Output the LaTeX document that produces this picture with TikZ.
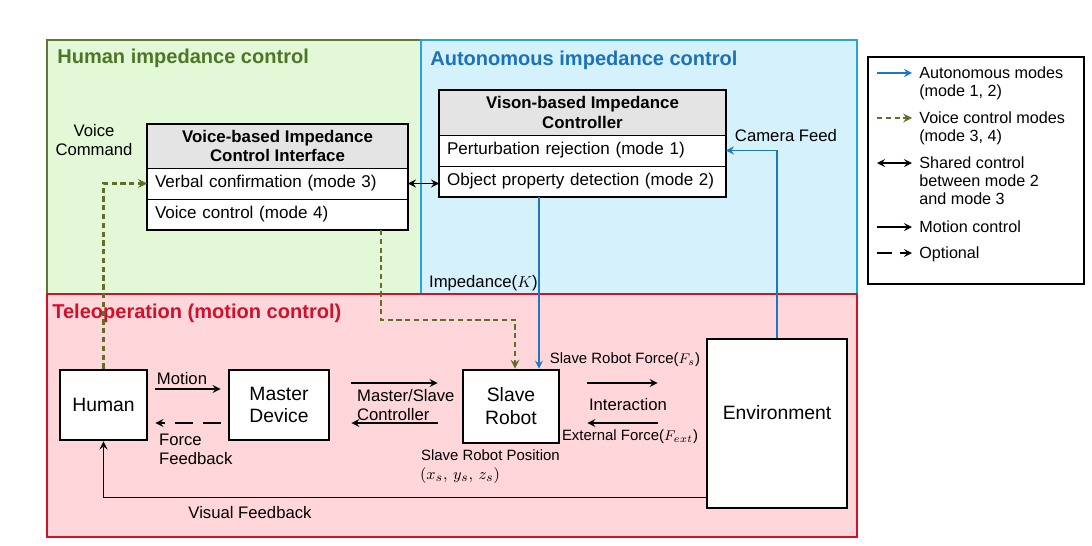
\documentclass[tikz,border=0pt]{standalone}
\usepackage{fontspec}
\setmainfont{Liberation Sans}
\usepackage{tikz}
\usetikzlibrary{arrows,shapes,positioning}
\usepackage{xcolor}
\definecolor{hgreen}{RGB}{94,122,46}
\definecolor{hgreentxt}{RGB}{79,118,38}
\definecolor{hgreenfill}{RGB}{226,248,214}
\definecolor{ablue}{RGB}{40,164,220}
\definecolor{abluetxt}{RGB}{27,114,188}
\definecolor{abluefill}{RGB}{212,241,252}
\definecolor{tred}{RGB}{210,16,42}
\definecolor{tredfill}{RGB}{255,214,218}
\definecolor{autoline}{RGB}{31,119,192}
\definecolor{voiceline}{RGB}{96,110,40}
\definecolor{headgray}{RGB}{228,228,228}
\tikzstyle{region} = [line width=1.3pt]
\tikzstyle{regtitle} = [anchor=west, inner sep=0pt, font=\bfseries\fontsize{11.4}{13}\selectfont]
\tikzstyle{block} = [rectangle, draw=black, line width=1.6pt, fill=white, align=center, font=\fontsize{11}{13}\selectfont]
\tikzstyle{head} = [rectangle, draw=black, thin, fill=headgray, align=center, outer sep=0pt, font=\bfseries\fontsize{9.6}{11}\selectfont]
\tikzstyle{row} = [rectangle, draw=black, thin, fill=white, align=left, outer sep=0pt, minimum height=0.62cm, inner xsep=0.16cm, font=\fontsize{9.7}{11}\selectfont]
\tikzstyle{lbl} = [font=\fontsize{9.5}{11}\selectfont, align=center, inner sep=1pt]
\tikzstyle{smalllbl} = [font=\fontsize{8.5}{10}\selectfont, inner sep=1pt]
\tikzstyle{legtext} = [anchor=north west, align=left, inner sep=0pt, font=\fontsize{9.2}{10.3}\selectfont]
\tikzstyle{arrow} = [line width=1pt,->,>=stealth]
\tikzstyle{autoarrow} = [arrow, color=autoline]
\tikzstyle{voicearrow} = [arrow, line width=1.2pt, color=voiceline, dash pattern=on 3pt off 2pt]
\tikzstyle{optarrow} = [arrow, dash pattern=on 0.36cm off 0.2cm]

\begin{document}
\begin{tikzpicture}[x=0.02cm, y=-0.02cm]
\fill[white] (0,0) rectangle (1092,545);
\useasboundingbox (0,0) rectangle (1092,545);

% Regions
\draw[region, draw=hgreen, fill=hgreenfill] (47,40) rectangle (421,294);
\draw[region, draw=ablue, fill=abluefill] (421,40) rectangle (857,294);
\draw[region, draw=tred, fill=tredfill] (47,294) rectangle (857,537);
\node (htitle) [regtitle, text=hgreentxt] at (57,58) {Human impedance control};
\node (atitle) [regtitle, text=abluetxt] at (430,60) {Autonomous impedance control};
\node (ttitle) [regtitle, text=tred] at (52,313) {Teleoperation (motion control)};

% Voice-based interface
\node (vhead) [head, minimum width=5.22cm, minimum height=0.88cm] at (277.5,146) {Voice-based Impedance\\Control Interface};
\node (vrow1) [row, text width=4.9cm, below=0pt of vhead] {Verbal confirmation (mode 3)};
\node (vrow2) [row, text width=4.9cm, below=0pt of vrow1] {Voice control (mode 4)};
\draw[line width=1.6pt] (vhead.north west) rectangle (vrow2.south east);

% Vision-based controller
\node (ihead) [head, minimum width=5.74cm, minimum height=0.9cm] at (582.5,112.5) {Vison-based Impedance\\Controller};
\node (irow1) [row, text width=5.42cm, below=0pt of ihead] {Perturbation rejection (mode 1)};
\node (irow2) [row, text width=5.42cm, below=0pt of irow1] {Object property detection (mode 2)};
\draw[line width=1.6pt] (ihead.north west) rectangle (irow2.south east);

% Teleoperation blocks
\node (hum) [block, minimum width=1.74cm, minimum height=1.4cm] at (103.5,405) {Human};
\node (master) [block, minimum width=2cm, minimum height=1.4cm] at (279,405) {Master\\Device};
\node (slave) [block, minimum width=1.92cm, minimum height=1.46cm] at (511,406.5) {Slave\\Robot};
\node (env) [block, minimum width=2.8cm, minimum height=3.38cm, text depth=0.45cm] at (777,423.5) {Environment};

% Labels
\node (vcmd) [lbl] at (94,140) {Voice\\Command};
\node (camfeed) [lbl] at (786,136) {Camera Feed};
\node (imped) [lbl, anchor=west] at (427,283) {Impedance($K$)};
\node (motion) [lbl] at (182,379) {Motion};
\node (ffb) [lbl, align=left, anchor=north west] at (157,432) {Force\\Feedback};
\node (msc) [lbl, align=left, anchor=west] at (355,405) {Master/Slave\\Controller};
\node (srforce) [smalllbl] at (625,360) {Slave Robot Force($F_s$)};
\node (interact) [lbl] at (628,405) {Interaction};
\node (extforce) [smalllbl] at (630,437) {External Force($F_{ext}$)};
\node (srpos) [smalllbl, anchor=west] at (419,455) {Slave Robot Position};
\node (srxyz) [lbl, anchor=west] at (418,476) {$(x_s,\, y_s,\, z_s)$};
\node (visfb) [lbl] at (250,513) {Visual Feedback};

% Shared control
\draw[arrow, <->] (vrow1.east) -- (vrow1.east -| irow2.west);

% Voice control modes
\draw[voicearrow] (hum.north) |- (vrow1.west);
\coordinate (vbend) at (515,320);
\draw[voicearrow] ([xshift=-0.54cm]vrow2.south east) |- (vbend) -- (vbend |- slave.north);

% Autonomous modes
\draw[autoarrow] ([xshift=2cm]irow2.south west) -- ([xshift=0.56cm]slave.north);
\draw[autoarrow] (env.north) |- (irow1.east);

% Motion control
\draw[arrow, shorten <=4pt, shorten >=4pt] ([yshift=0.32cm]hum.east) -- ([yshift=0.32cm]master.west);
\draw[optarrow, shorten <=4pt, shorten >=4pt] ([yshift=-0.36cm]master.west) -- ([yshift=-0.36cm]hum.east);
\draw[arrow, shorten <=0.42cm, shorten >=0.48cm] ([yshift=0.44cm]master.east) -- ([yshift=0.44cm]master.east -| slave.west);
\draw[arrow, shorten <=0.48cm, shorten >=0.42cm] ([yshift=-0.36cm]master.east -| slave.west) -- ([yshift=-0.36cm]master.east);
\draw[arrow, shorten <=0.54cm, shorten >=0.96cm] ([yshift=0.47cm]slave.east) -- ([yshift=0.47cm]slave.east -| env.west);
\draw[arrow, shorten <=0.96cm, shorten >=0.54cm] ([yshift=-0.33cm]slave.east -| env.west) -- ([yshift=-0.33cm]slave.east);
\draw[arrow] ([yshift=0.24cm]env.south west) -| (hum.south);

% Legend
\draw[line width=1.1pt, fill=white] (868,57) rectangle (1084,284);
\node (lg1) [legtext] at (919,66) {Autonomous modes\\(mode 1, 2)};
\node (lg2) [legtext] at (919,111) {Voice control modes\\(mode 3, 4)};
\node (lg3) [legtext] at (919,156) {Shared control\\between mode 2\\and mode 3};
\node (lg4) [legtext] at (919,220) {Motion control};
\node (lg5) [legtext] at (919,246) {Optional};
\coordinate (la1) at (877,73);
\coordinate (la2) at (877,118);
\coordinate (la3) at (877,163);
\coordinate (la4) at (877,227);
\coordinate (la5) at (877,253);
\draw[autoarrow] (la1) -- ++(35,0);
\draw[voicearrow] (la2) -- ++(35,0);
\draw[arrow, <->] (la3) -- ++(35,0);
\draw[arrow] (la4) -- ++(35,0);
\draw[arrow, dash pattern=on 0.3cm off 0.16cm] (la5) -- ++(35,0);
\end{tikzpicture}
\end{document}
